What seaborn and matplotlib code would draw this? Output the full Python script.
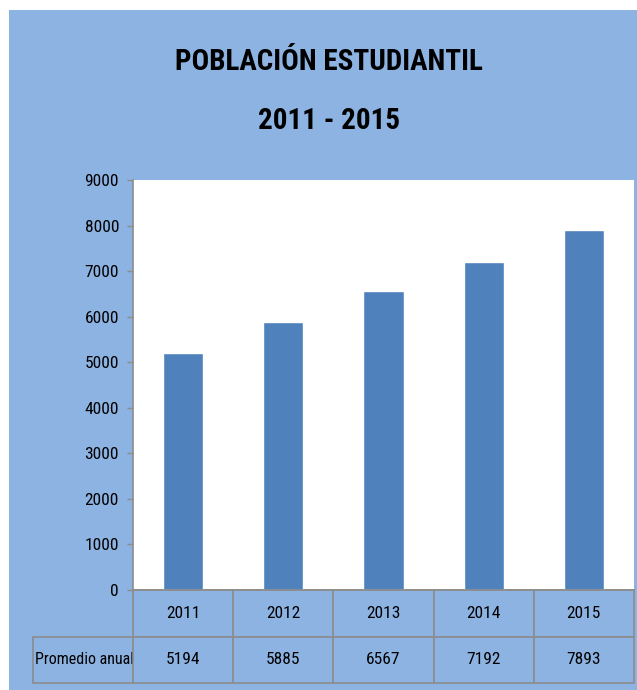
import matplotlib
matplotlib.use("Agg")
import matplotlib.pyplot as plt
import seaborn as sns
import pandas as pd
from matplotlib.patches import Rectangle
from matplotlib.table import Table

years = ["2011", "2012", "2013", "2014", "2015"]
values = [5194, 5885, 6567, 7192, 7893]
row_label = "Promedio anual"
title_lines = ["POBLACIÓN ESTUDIANTIL", "2011 - 2015"]
yticks = [0, 1000, 2000, 3000, 4000, 5000, 6000, 7000, 8000, 9000]

BG = "#8DB3E2"
BAR = "#4F81BD"
GRID = "#8C8C8C"
FONT = ["Liberation Sans Narrow", "Roboto Condensed", "DejaVu Sans"]

sns.set_theme(style="white")
plt.rcParams["font.family"] = FONT

df = pd.DataFrame({"year": years, "value": values})

fig = plt.figure(figsize=(6.37, 6.90), dpi=100)
fig.patch.set_facecolor("white")
fig.patches.append(Rectangle((9 / 637, 0), 1 - 9 / 637, 680 / 690,
                             transform=fig.transFigure, facecolor=BG,
                             edgecolor="none", zorder=-10))

ax = fig.add_axes([133 / 637, 100 / 690, 501 / 637, 410 / 690])
ax.set_facecolor("white")
sns.barplot(data=df, x="year", y="value", color=BAR, saturation=1,
            width=0.4, ax=ax)
ax.set_ylim(0, 9000)
ax.set_xlim(-0.5, len(years) - 0.5)
ax.set_yticks(yticks)
ax.set_yticklabels([str(t) for t in yticks], fontsize=12.5, color="black")
ax.set_xticks([])
ax.set_xlabel("")
ax.set_ylabel("")
for s in ["top", "right"]:
    ax.spines[s].set_visible(False)
for s in ["left", "bottom"]:
    ax.spines[s].set_color(GRID)
    ax.spines[s].set_linewidth(1.2)
ax.tick_params(axis="y", left=True, length=4, width=1, color=GRID, pad=6)

# bbox applies to the data cells only; the row-label column extends left
tbl = Table(ax, bbox=[0, -93 / 410, 1, 93 / 410])
w, h = 0.2, 0.5
for j, yr in enumerate(years):
    tbl.add_cell(0, j, width=w, height=h, text=yr, loc="center",
                 facecolor=BG, edgecolor=GRID)
    tbl.add_cell(1, j, width=w, height=h, text=str(values[j]), loc="center",
                 facecolor=BG, edgecolor=GRID)
tbl.add_cell(1, -1, width=w, height=h, text=row_label, loc="left",
             facecolor=BG, edgecolor=GRID)
tbl.auto_set_font_size(False)
for (r, c), cell in tbl.get_celld().items():
    cell.set_linewidth(1.2)
    cell.PAD = 0.02
    t = cell.get_text()
    t.set_fontsize(11.5 if c == -1 else 12.5)
    t.set_color("black")
    t.set_fontfamily(FONT)
    cell.set_zorder(2 if c == -1 else 1)
ax.add_table(tbl)

fig.text(329 / 637, 1 - 62 / 690, title_lines[0], ha="center", va="center",
         fontsize=21, fontweight="bold", family=FONT, color="black")
fig.text(329 / 637, 1 - 121 / 690, title_lines[1], ha="center", va="center",
         fontsize=21, fontweight="bold", family=FONT, color="black")

fig.savefig("out.png", dpi=100, facecolor=fig.get_facecolor())
